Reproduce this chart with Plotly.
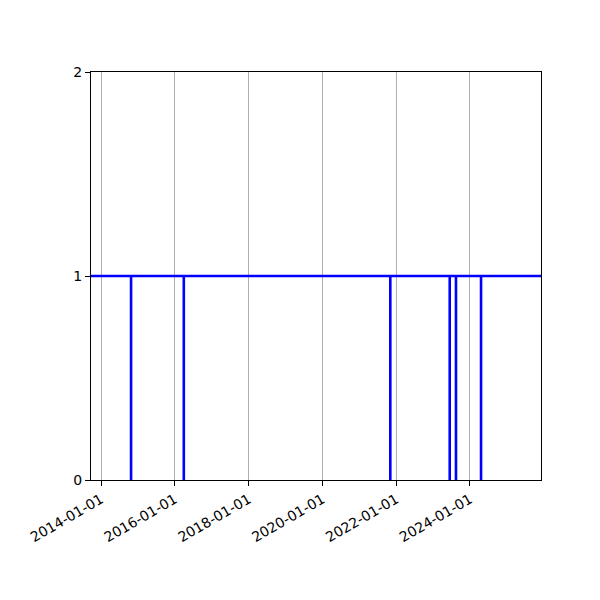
import plotly.graph_objects as go

# Observed series: value 1 except single-day drops to 0
dates = ["2013-09-01",
         "2014-10-25", "2014-10-26",
         "2016-03-30", "2016-03-31",
         "2021-11-03", "2021-11-04",
         "2023-06-14", "2023-06-15",
         "2023-08-15", "2023-08-16",
         "2024-04-19", "2024-04-20",
         "2026-01-01"]
values = [1,
          0, 1,
          0, 1,
          0, 1,
          0, 1,
          0, 1,
          0, 1,
          1]

x_range = ["2013-09-24", "2025-12-04"]
x_ticks = ["2014-01-01", "2016-01-01", "2018-01-01", "2020-01-01", "2022-01-01", "2024-01-01"]
y_ticks = [0, 1, 2]

fig = go.Figure()
fig.add_trace(go.Scatter(x=dates, y=values, mode="lines", line_shape="hv",
                         line=dict(color="#0000ff", width=2.5), showlegend=False))

fig.update_layout(
    width=600, height=600, autosize=False,
    margin=dict(l=83, r=67, t=64, b=128),
    paper_bgcolor="white", plot_bgcolor="white",
    font=dict(family="DejaVu Sans", size=14, color="black"),
    xaxis=dict(range=x_range, tickvals=x_ticks, ticktext=x_ticks, tickangle=-30,
               showgrid=True, gridcolor="#b0b0b0", gridwidth=1,
               showline=True, mirror=True, linecolor="black", linewidth=1,
               ticks="outside", ticklen=5, tickcolor="black", tickwidth=1,
               zeroline=False),
    yaxis=dict(range=[0, 2], tickvals=y_ticks, showgrid=False,
               showline=True, mirror=True, linecolor="black", linewidth=1,
               ticks="outside", ticklen=5, tickcolor="black", tickwidth=1,
               zeroline=False),
)

fig.write_html("out.html")
